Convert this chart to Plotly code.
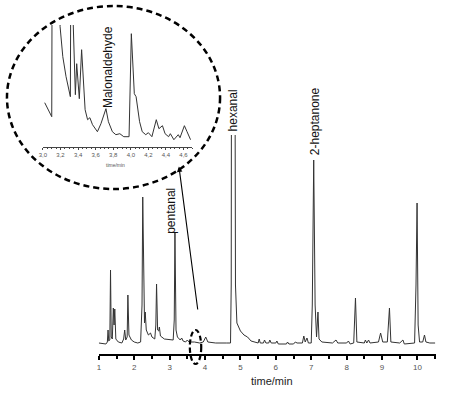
import plotly.graph_objects as go

# ---- main chromatogram (retention time in min, detector signal in a.u.) ----
main_time = [1.0, 1.2, 1.24, 1.26, 1.28, 1.31, 1.33, 1.35, 1.38, 1.41, 1.43, 1.45, 1.48, 1.55, 1.65,
             1.70, 1.73, 1.76, 1.80, 1.82, 1.85, 1.92, 2.0, 2.1, 2.18, 2.22, 2.24, 2.27, 2.29, 2.31,
             2.34, 2.40, 2.46, 2.5, 2.58, 2.61, 2.63, 2.66, 2.69, 2.71, 2.74, 2.85, 3.0, 3.1, 3.13,
             3.15, 3.18, 3.22, 3.3, 3.34, 3.38, 3.45, 3.5, 3.55, 3.7, 3.8, 3.85, 3.95, 4.02, 4.08,
             4.3, 4.6, 4.72, 4.74, 4.75, 4.84, 4.86, 4.9, 4.96, 5.0, 5.1, 5.2, 5.3, 5.4, 5.5,
             5.53, 5.56, 5.65, 5.68, 5.72, 5.8, 5.83, 5.87, 6.0, 6.03, 6.07, 6.3, 6.33, 6.37, 6.5,
             6.55, 6.6, 6.75, 6.79, 6.83, 6.88, 6.92, 7.0, 7.03, 7.07, 7.11, 7.15, 7.19, 7.22, 7.3,
             7.6, 7.7, 7.75, 8.0, 8.05, 8.1, 8.2, 8.25, 8.29, 8.5, 8.53, 8.57, 8.62, 8.66, 8.9,
             8.96, 9.02, 9.15, 9.21, 9.25, 9.5, 9.59, 9.63, 9.92, 9.96, 9.99, 10.02, 10.06, 10.15,
             10.20, 10.24, 10.35, 10.5]
main_signal = [2, 1, 3, 15, 4, 5, 75, 8, 6, 37, 20, 36, 6, 3, 2,
               6, 15, 5, 8, 50, 10, 5, 3, 2, 3, 40, 148, 35, 22, 33,
               15, 10, 12, 8, 6, 20, 61, 15, 14, 18, 9, 6, 5, 5, 25,
               112, 15, 8, 5, 7, 4, 3, 5, 3, 3, 2, 2, 3, 8, 3,
               2, 2, 2, 60, 400, 400, 60, 22, 18, 14, 10, 8, 4, 3, 2,
               6, 2, 2, 5, 2, 2, 5, 2, 2, 4, 1, 1, 3, 1, 1,
               3, 2, 2, 9, 3, 7, 2, 2, 40, 185, 40, 8, 33, 6, 3,
               2, 5, 2, 2, 4, 1, 2, 47, 3, 2, 5, 2, 5, 2, 3,
               12, 3, 3, 37, 3, 2, 5, 1, 2, 60, 142, 20, 3, 3,
               10, 3, 2, 2]
main_ticks = [1, 2, 3, 4, 5, 6, 7, 8, 9, 10]
main_tick_text = ["1", "2", "3", "4", "5", "6", "7", "8", "9", "10"]

# ---- inset: zoom on 3.0 - 4.7 min ----
inset_time = [3.02, 3.10, 3.105, 3.19, 3.195, 3.226, 3.263, 3.30, 3.312, 3.318, 3.33, 3.357, 3.369,
              3.384, 3.414, 3.44, 3.459, 3.48, 3.508, 3.534, 3.564, 3.62, 3.66, 3.717, 3.745, 3.79,
              3.83, 3.875, 3.92, 3.98, 4.006, 4.02, 4.04, 4.06, 4.08, 4.10, 4.13, 4.17, 4.2, 4.24,
              4.29, 4.32, 4.36, 4.39, 4.43, 4.45, 4.49, 4.54, 4.56, 4.61, 4.64, 4.68]
inset_signal = [44, 30, 200, 200, 120, 90, 70, 55, 50, 200, 200, 67, 52,
                83, 48, 97, 67, 37, 27, 29, 22, 15, 23, 38, 25, 15,
                12, 13, 10, 10, 113, 90, 53, 50, 37, 25, 15, 12, 14, 10,
                27, 18, 21, 13, 10, 13, 7, 12, 9, 21, 15, 7]
inset_ticks = [3.0, 3.2, 3.4, 3.6, 3.8, 4.0, 4.2, 4.4, 4.6]
inset_tick_text = ["3,0", "3,2", "3,4", "3,6", "3,8", "4,0", "4,2", "4,4", "4,6"]

W, H = 450, 396
def px(x):
    return x / W
def py(y):
    return 1 - y / H

FONT = "Arial, Liberation Sans, sans-serif"
LINE = "#333333"

fig = go.Figure()
fig.add_trace(go.Scatter(x=main_time, y=main_signal, mode="lines",
                         line=dict(color=LINE, width=1), xaxis="x", yaxis="y",
                         showlegend=False, hoverinfo="skip"))
fig.add_trace(go.Scatter(x=inset_time, y=inset_signal, mode="lines",
                         line=dict(color=LINE, width=1), xaxis="x2", yaxis="y2",
                         showlegend=False, hoverinfo="skip"))

fig.update_layout(
    width=W, height=H,
    margin=dict(l=0, r=0, t=0, b=0),
    paper_bgcolor="white", plot_bgcolor="rgba(0,0,0,0)",
    font=dict(family=FONT, color="#222"),
    xaxis=dict(domain=[px(95.7), px(435.7)], range=[1.0, 10.52], anchor="y",
               showgrid=False, zeroline=False, showline=True, linecolor="black", linewidth=2,
               ticks="outside", ticklen=4, tickwidth=1.5, tickcolor="black",
               tickvals=main_ticks, ticktext=main_tick_text,
               tickfont=dict(size=8, color="#555"),
               minor=dict(dtick=0.5, ticks="outside", ticklen=3, tickwidth=1.5, tickcolor="black")),
    yaxis=dict(domain=[py(354), py(135)], range=[-9, 210], anchor="x",
               visible=False, showgrid=False, zeroline=False),
    xaxis2=dict(domain=[px(39.3), px(190)], range=[3.0, 4.7], anchor="y2",
                showgrid=False, zeroline=False, showline=True, linecolor="#444", linewidth=1,
                ticks="outside", ticklen=2, tickwidth=1, tickcolor="#444",
                tickvals=inset_ticks, ticktext=inset_tick_text,
                tickfont=dict(size=6, color="#555"),
                minor=dict(dtick=0.05, ticks="outside", ticklen=1.5, tickwidth=0.8, tickcolor="#444")),
    yaxis2=dict(domain=[py(146.7), py(25)], range=[0, 121.7], anchor="x2",
                visible=False, showgrid=False, zeroline=False),
)

# dashed ellipses
fig.add_shape(type="circle", xref="paper", yref="paper",
              x0=px(3), x1=px(218), y0=py(189), y1=py(6),
              line=dict(color="black", width=2.5, dash="6px,4px"))
fig.add_shape(type="circle", xref="paper", yref="paper",
              x0=px(187.5), x1=px(199), y0=py(364), y1=py(330),
              line=dict(color="black", width=2.2, dash="5px,3px"))

# arrow from small ellipse to inset
fig.add_annotation(x=px(176.5), y=py(166.5), xref="paper", yref="paper",
                   ax=195.5 - 176.5, ay=311 - 166.5, axref="pixel", ayref="pixel",
                   text="", showarrow=True, arrowhead=2, arrowsize=1, arrowwidth=1.1,
                   arrowcolor="black")

labels = [("pentanal", 168.3, 211), ("hexanal", 231.5, 110),
          ("2-heptanone", 314, 121), ("Malonaldehyde", 105, 67)]
for text, x, y in labels:
    fig.add_annotation(x=px(x), y=py(y), xref="paper", yref="paper", text=text,
                       textangle=-90, showarrow=False, xanchor="center", yanchor="middle",
                       font=dict(size=12, color="#111", family=FONT))

fig.add_annotation(x=px(270), y=py(381), xref="paper", yref="paper", text="time/min",
                   showarrow=False, xanchor="center", yanchor="middle",
                   font=dict(size=11, color="#222", family=FONT))
fig.add_annotation(x=px(112), y=py(164.5), xref="paper", yref="paper", text="time/min",
                   showarrow=False, xanchor="center", yanchor="middle",
                   font=dict(size=5, color="#555", family=FONT))

fig.write_html("out.html", config={"displayModeBar": False},
               post_script="document.body.style.margin='0';document.body.style.padding='0';")
